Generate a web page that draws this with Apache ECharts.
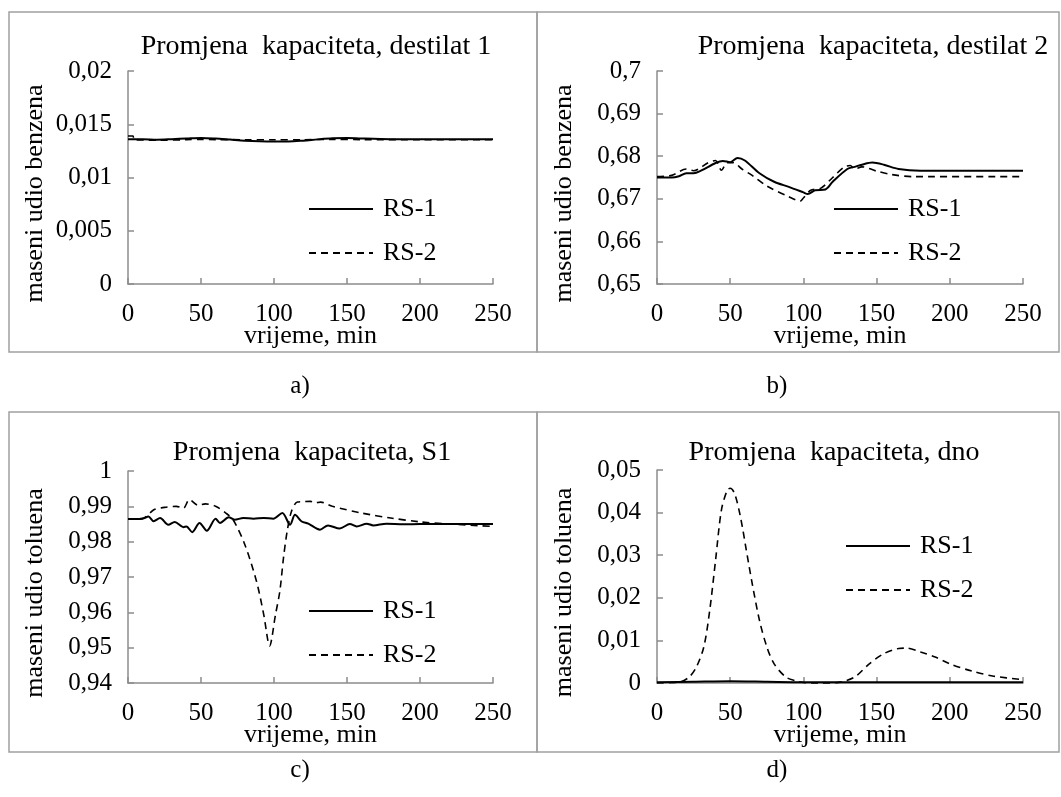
<!DOCTYPE html>
<html>
<head>
    <meta charset="UTF-8">
    <title>Promjena kapaciteta</title>
    <script type="text/javascript" src="https://cdn.jsdelivr.net/npm/echarts@6/dist/echarts.min.js"></script>
</head>
<body style="margin: 0;overflow: hidden;background: #fff;width: 100%;height:100%;position: absolute;top: 0;">
<div id="chart" style="width: 1061px;height: 797px"></div>
<script type="text/javascript">
    // a) destilat 1
    var aTime1 = [0, 10, 20, 30, 40, 50, 60, 70, 80, 90, 100, 110, 120, 130, 140, 150, 160, 180, 200, 250];
    var aRS1 = [0.0136, 0.0136, 0.01355, 0.0136, 0.01366, 0.01372, 0.01366, 0.01356, 0.01346, 0.0134, 0.01338, 0.01338, 0.01346, 0.01358, 0.01368, 0.01372, 0.01366, 0.0136, 0.0136, 0.0136];
    var aTime2 = [0, 3.5, 4, 10, 20, 40, 50, 60, 80, 100, 120, 140, 160, 200, 250];
    var aRS2 = [0.0139, 0.0139, 0.01355, 0.01352, 0.0135, 0.01355, 0.01358, 0.01356, 0.01355, 0.01355, 0.01355, 0.01358, 0.01356, 0.01355, 0.01355];

    // b) destilat 2
    var bTime1 = [0, 10, 15, 20, 25, 30, 40, 45, 50, 55, 60, 70, 80, 90, 100, 103, 108, 115, 120, 130, 135, 140, 147, 155, 165, 180, 250];
    var bRS1 = [0.675, 0.675, 0.6753, 0.676, 0.676, 0.6766, 0.6784, 0.6789, 0.6786, 0.6796, 0.679, 0.676, 0.674, 0.6728, 0.6715, 0.6711, 0.672, 0.6722, 0.674, 0.677, 0.6775, 0.678, 0.6785, 0.678, 0.677, 0.6766, 0.6766];
    var bTime2 = [0, 10, 20, 25, 35, 40, 44, 48, 52, 58, 65, 75, 90, 98, 100, 105, 112, 120, 128, 132, 135, 140, 150, 160, 175, 250];
    var bRS2 = [0.6752, 0.6755, 0.677, 0.6766, 0.6785, 0.679, 0.6767, 0.6785, 0.6785, 0.677, 0.6755, 0.673, 0.6705, 0.6695, 0.6702, 0.672, 0.6725, 0.675, 0.6775, 0.6778, 0.677, 0.6775, 0.6765, 0.6757, 0.6752, 0.6752];

    // c) S1
    var cTime1 = [0, 10, 14, 17.5, 22, 27.6, 32, 38, 40, 44, 49, 54, 60, 63, 69, 73, 79, 86, 93, 99.5, 105.7, 111, 114.4, 119, 123.5, 131.5, 137, 145, 152, 156.6, 163.5, 168, 177, 188.6, 200, 250];
    var cRS1 = [0.9864, 0.9865, 0.9871, 0.9858, 0.9867, 0.9848, 0.9856, 0.9841, 0.9843, 0.9827, 0.9853, 0.9831, 0.9865, 0.9853, 0.9869, 0.9862, 0.9867, 0.9865, 0.9867, 0.9865, 0.9881, 0.9848, 0.9876, 0.9857, 0.9851, 0.9834, 0.9846, 0.9837, 0.985, 0.9843, 0.9851, 0.9846, 0.9851, 0.9849, 0.985, 0.985];
    var cTime2 = [0, 10, 18, 25, 33, 38, 42, 48, 53, 60, 67, 72, 80, 88, 93, 97, 101, 104, 106.5, 109, 112, 116, 125, 128, 132, 140, 160, 180, 200, 220, 250];
    var cRS2 = [0.9864, 0.9866, 0.9891, 0.9897, 0.99, 0.9895, 0.9919, 0.9903, 0.9907, 0.99, 0.9881, 0.9862, 0.9792, 0.9688, 0.9593, 0.9505, 0.9593, 0.966, 0.9754, 0.9829, 0.9886, 0.9912, 0.9914, 0.991, 0.9912, 0.99, 0.9881, 0.9867, 0.9856, 0.985, 0.9843];

    // d) dno
    var dTime1 = [0, 25, 50, 75, 100, 150, 200, 250];
    var dRS1 = [0.0002, 0.0003, 0.0004, 0.0003, 0.0002, 0.0002, 0.0002, 0.0002];
    var dTime2 = [0, 15, 22, 27, 32, 36, 40, 44, 48, 50, 53, 57, 61, 65, 70, 75, 80, 88, 95, 100, 110, 125, 135, 145, 155, 165, 170, 180, 190, 200, 215, 230, 250];
    var dRS2 = [0, 0.0002, 0.0014, 0.0038, 0.0085, 0.017, 0.0288, 0.0406, 0.0453, 0.0457, 0.0445, 0.039, 0.0312, 0.0234, 0.0147, 0.0085, 0.0045, 0.0014, 0.0005, 0.0001, -0.0002, 0.0002, 0.0014, 0.0045, 0.0069, 0.0081, 0.0082, 0.0073, 0.0061, 0.0045, 0.0028, 0.0016, 0.0008];

    var titles = ['Promjena  kapaciteta, destilat 1', 'Promjena  kapaciteta, destilat 2', 'Promjena  kapaciteta, S1', 'Promjena  kapaciteta, dno'];
    var captions = ['a)', 'b)', 'c)', 'd)'];
    var yNames = ['maseni udio benzena', 'maseni udio benzena', 'maseni udio toluena', 'maseni udio toluena'];
    var xName = 'vrijeme, min';
    var yMin = [0, 0.65, 0.94, 0];
    var yMax = [0.02, 0.7, 1, 0.05];
    var yStep = [0.005, 0.01, 0.01, 0.01];

    var font = "'Liberation Serif', 'Times New Roman', serif";
    var grids = [
        {left: 128, top: 71, width: 365, height: 213},
        {left: 657, top: 71, width: 366, height: 213},
        {left: 128, top: 471, width: 365, height: 212},
        {left: 657, top: 470, width: 366, height: 213}
    ];
    var titlePos = [[316, 33], [873, 33], [312, 439], [834, 439]];
    var captionPos = [[300, 374], [777, 374], [300, 758], [777, 758]];
    var legendPos = [[308, 196], [833, 196], [308, 598], [845, 533]];
    var boxes = [[9, 12, 528, 340], [537, 12, 522, 340], [9, 412, 528, 340], [537, 412, 522, 340]];

    function pairs(t, v) {
        return t.map(function (x, i) {
            return [x, v[i]];
        });
    }

    function fmt(v) {
        return String(parseFloat(v.toFixed(4))).replace('.', ',');
    }

    var chart = echarts.init(document.getElementById('chart'));
    var option = {
        backgroundColor: '#fff',
        animation: false,
        textStyle: {fontFamily: font, color: '#000'},
        title: [],
        legend: [],
        grid: grids,
        xAxis: [],
        yAxis: [],
        series: [],
        graphic: []
    };

    var dataSets = [
        [pairs(aTime1, aRS1), pairs(aTime2, aRS2)],
        [pairs(bTime1, bRS1), pairs(bTime2, bRS2)],
        [pairs(cTime1, cRS1), pairs(cTime2, cRS2)],
        [pairs(dTime1, dRS1), pairs(dTime2, dRS2)]
    ];

    for (var i = 0; i < 4; i++) {
        option.title.push({
            text: titles[i],
            left: titlePos[i][0],
            top: titlePos[i][1],
            textAlign: 'center',
            padding: 0,
            textStyle: {fontFamily: font, fontSize: 28, fontWeight: 'normal', color: '#000'}
        });
        option.title.push({
            text: captions[i],
            left: captionPos[i][0],
            top: captionPos[i][1],
            textAlign: 'center',
            padding: 0,
            textStyle: {fontFamily: font, fontSize: 25, fontWeight: 'normal', color: '#000'}
        });
        option.legend.push({
            data: ['RS-1', 'RS-2'],
            orient: 'vertical',
            left: legendPos[i][0],
            top: legendPos[i][1],
            itemWidth: 64,
            itemHeight: 14,
            itemGap: 18,
            padding: 0,
            selectedMode: false,
            itemStyle: {opacity: 0},
            textStyle: {fontFamily: font, fontSize: 26, color: '#000', padding: [0, 0, 0, 5]}
        });
        option.xAxis.push({
            type: 'value',
            gridIndex: i,
            min: 0,
            max: 250,
            interval: 50,
            name: xName,
            nameLocation: 'middle',
            nameGap: 39,
            nameMoveOverlap: false,
            nameTextStyle: {fontFamily: font, fontSize: 26, color: '#000'},
            axisLine: {lineStyle: {color: '#8c8c8c', width: 1.5}},
            axisTick: {inside: true, length: 6, lineStyle: {color: '#8c8c8c', width: 1.5}},
            axisLabel: {fontFamily: font, fontSize: 25, color: '#000', margin: 18},
            splitLine: {show: false}
        });
        option.yAxis.push({
            type: 'value',
            gridIndex: i,
            min: yMin[i],
            max: yMax[i],
            interval: yStep[i],
            name: yNames[i],
            nameLocation: 'middle',
            nameGap: 80,
            nameMoveOverlap: false,
            nameTextStyle: {fontFamily: font, fontSize: 26, color: '#000', padding: [0, 32, 0, 0]},
            axisLine: {show: true, lineStyle: {color: '#8c8c8c', width: 1.5}},
            axisTick: {show: true, inside: true, length: 6, lineStyle: {color: '#8c8c8c', width: 1.5}},
            axisLabel: {fontFamily: font, fontSize: 25, color: '#000', margin: 16, formatter: fmt},
            splitLine: {show: false}
        });
        option.series.push({
            name: 'RS-1',
            type: 'line',
            xAxisIndex: i,
            yAxisIndex: i,
            symbol: 'none',
            smooth: 0.3,
            lineStyle: {color: '#000', width: 2, type: 'solid'},
            itemStyle: {color: '#000'},
            data: dataSets[i][0]
        });
        option.series.push({
            name: 'RS-2',
            type: 'line',
            xAxisIndex: i,
            yAxisIndex: i,
            symbol: 'none',
            smooth: 0.3,
            lineStyle: {color: '#000', width: 1.6, type: [7, 5]},
            itemStyle: {color: '#000'},
            data: dataSets[i][1]
        });
        option.graphic.push({
            type: 'rect',
            shape: {x: boxes[i][0], y: boxes[i][1], width: boxes[i][2], height: boxes[i][3]},
            style: {fill: null, stroke: '#a0a0a0', lineWidth: 1.5},
            silent: true,
            z: -1
        });
    }

    chart.setOption(option);
</script>
</body>
</html>
